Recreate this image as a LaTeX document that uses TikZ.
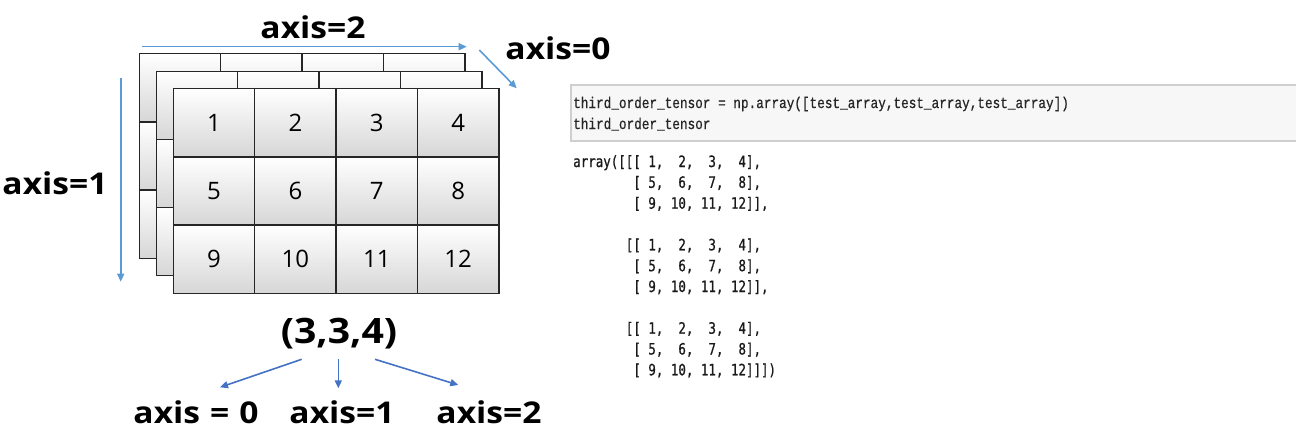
\documentclass[tikz,border=0pt]{standalone}
\usepackage{fontspec}
\setmainfont{Open Sans}
\setmonofont[FakeStretch=0.8,FakeBold=0.8]{DejaVu Sans Mono}
\newfontfamily\inputfont[FakeStretch=0.82,FakeBold=0.6]{Liberation Mono}
\newfontfamily\labelfont[FakeStretch=1.12]{Open Sans}
\usetikzlibrary{arrows.meta}

\definecolor{axisblue}{HTML}{5B9BD5}
\definecolor{shapeblue}{HTML}{4472C4}
\definecolor{codebg}{HTML}{F7F7F7}
\definecolor{codeline}{HTML}{CFCFCF}

\tikzset{
    cell/.style={draw=black!85, line width=1.3pt, top color=white, bottom color=black!16,
        minimum width=81.4pt, minimum height=68.2pt, inner sep=0pt,
        font=\fontsize{24}{26}\selectfont},
    axislabel/.style={font=\labelfont\bfseries\fontsize{30}{32}\selectfont, inner sep=0pt},
    axisarrow/.style={draw=axisblue, line width=1.6pt, -{Triangle[length=8pt,width=7pt]}},
    shapearrow/.style={draw=shapeblue, line width=1.6pt, -{Triangle[length=8pt,width=7pt]}},
    codetext/.style={font=\ttfamily\fontsize{15.6}{17}\selectfont, text=black!90, inner sep=0pt, anchor=base west},
    inputtext/.style={font=\inputfont\fontsize{15.5}{17}\selectfont, text=black!85, inner sep=0pt, anchor=base west},
}

\begin{document}
\begin{tikzpicture}[x=1pt,y=-1pt]
    \useasboundingbox (0,0) rectangle (1296,444);

    % Back layers of the tensor
    \foreach \l in {2,1} {
        \foreach \r in {1,2,3} {
            \foreach \c in {1,...,4} {
                \node[cell] (back-\l-\r-\c) at ({173.3-17*\l+(\c-0.5)*81.4},{88.7-17.5*\l+(\r-0.5)*68.2}) {};
            }
        }
    }

    % Front layer with values
    \foreach \r in {1,2,3} {
        \foreach \c in {1,...,4} {
            \pgfmathtruncatemacro\n{(\r-1)*4+\c}
            \node[cell] (cell-\n) at ({173.3+(\c-0.5)*81.4},{88.7+(\r-0.5)*68.2}) {\n};
        }
    }

    % Axis labels and arrows
    \node[axislabel] (axis2) at (313,27) {axis=2};
    \node[axislabel] (axis0) at (558,48) {axis=0};
    \node[axislabel] (axis1) at (55,183) {axis=1};

    \coordinate (a2s) at (141.7,46.7);
    \coordinate (a2e) at (466.7,46.7);
    \coordinate (a0s) at (479.3,50);
    \coordinate (a0e) at (516.7,88.3);
    \coordinate (a1s) at (120.7,77.7);
    \coordinate (a1e) at (120.7,281.7);
    \draw[axisarrow] (a2s) -- (a2e);
    \draw[axisarrow] (a0s) -- (a0e);
    \draw[axisarrow] (a1s) -- (a1e);

    % Shape and its axes
    \node[font=\labelfont\bfseries\fontsize{35}{37}\selectfont, inner sep=0pt] (shape) at (339,334) {(3,3,4)};
    \node[axislabel] (dim0) at (196,412) {axis\hspace{10pt}=\hspace{10pt}0};
    \node[axislabel] (dim1) at (342,412) {axis=1};
    \node[axislabel] (dim2) at (489,412) {axis=2};

    \coordinate (s0) at (301.7,359.3);
    \coordinate (s1) at (338.3,359.3);
    \coordinate (s2) at (375,359.3);
    \coordinate (d0) at (220,387.3);
    \coordinate (d1) at (338.3,388.3);
    \coordinate (d2) at (458.3,385);
    \draw[shapearrow] (s0) -- (d0);
    \draw[shapearrow] (s1) -- (d1);
    \draw[shapearrow] (s2) -- (d2);

    % Code cell
    \fill[codebg] (571,85) rectangle (1297,141);
    \draw[codeline, line width=1.3pt] (1297,85) -- (571,85) -- (571,141) -- (1297,141);
    \node[inputtext] (in1) at (573,108) {third\_order\_tensor~=~np.array([test\_array,test\_array,test\_array])};
    \node[inputtext] (in2) at (573,129) {third\_order\_tensor};

    % Output
    \node[codetext] (out1) at (573,167) {array([[[~1,~~2,~~3,~~4],};
    \node[codetext] (out2) at (573,187.8) {~~~~~~~~[~5,~~6,~~7,~~8],};
    \node[codetext] (out3) at (573,208.7) {~~~~~~~~[~9,~10,~11,~12]],};
    \node[codetext] (out4) at (573,250.3) {~~~~~~~[[~1,~~2,~~3,~~4],};
    \node[codetext] (out5) at (573,271.2) {~~~~~~~~[~5,~~6,~~7,~~8],};
    \node[codetext] (out6) at (573,292) {~~~~~~~~[~9,~10,~11,~12]],};
    \node[codetext] (out7) at (573,333.7) {~~~~~~~[[~1,~~2,~~3,~~4],};
    \node[codetext] (out8) at (573,354.5) {~~~~~~~~[~5,~~6,~~7,~~8],};
    \node[codetext] (out9) at (573,375.3) {~~~~~~~~[~9,~10,~11,~12]]])};
\end{tikzpicture}
\end{document}
